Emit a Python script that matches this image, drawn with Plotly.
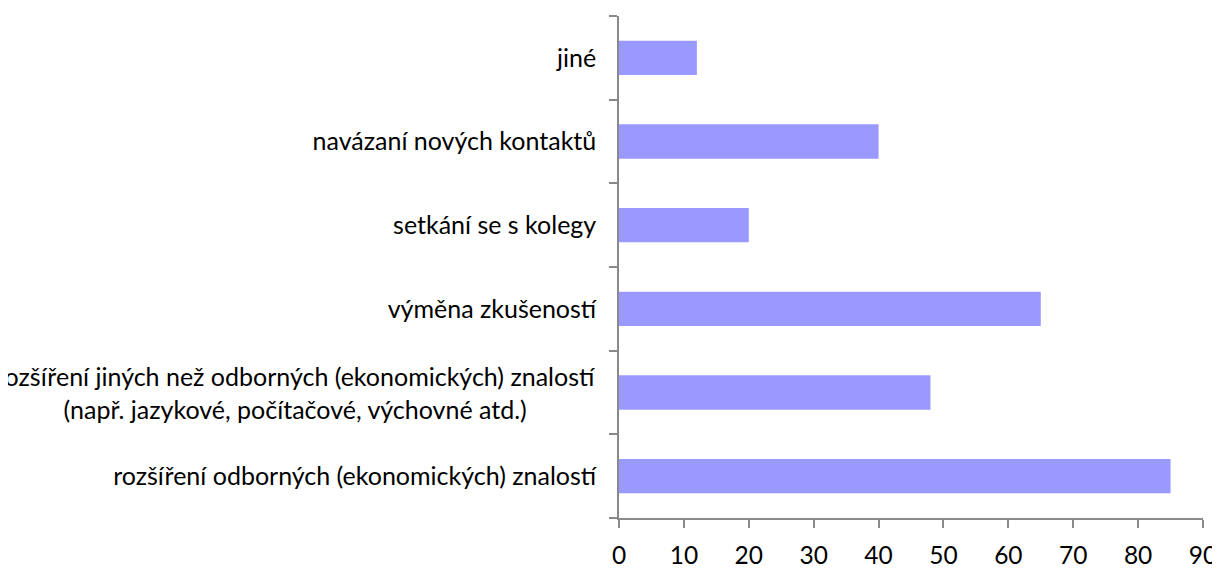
import plotly.graph_objects as go

categories = [
    "rozšíření odborných (ekonomických) znalostí",
    "rozšíření jiných než odborných (ekonomických) znalostí<br>(např. jazykové, počítačové, výchovné atd.)",
    "výměna zkušeností",
    "setkání se s kolegy",
    "navázaní nových kontaktů",
    "jiné",
]
values = [85, 48, 65, 20, 40, 12]
x_ticks = [0, 10, 20, 30, 40, 50, 60, 70, 80, 90]

FONT = "Lato"
FS = 25

# the browser page adds an 8px body margin, so the figure is 8px smaller
W, H = 1212, 560
ML, MR, MT, MB = 611, 17, 8, 50
PW = W - ML - MR

# multi-line label is drawn centred (as in the reference) via an annotation
multi = [c for c in categories if "<br>" in c]
ticktext = ["" if "<br>" in c else c for c in categories]

fig = go.Figure(
    go.Bar(
        y=categories,
        x=values,
        orientation="h",
        marker=dict(color="#9999FF", line=dict(width=0)),
        width=0.41,
    )
)

for c in multi:
    fig.add_annotation(
        text=c,
        xref="paper",
        yref="y",
        x=(590 - ML) / PW,
        y=c,
        xanchor="right",
        yanchor="middle",
        align="center",
        showarrow=False,
        font=dict(family=FONT, size=FS, color="black"),
    )

fig.update_layout(
    width=W,
    height=H,
    margin=dict(l=ML, r=MR, t=MT, b=MB, autoexpand=False),
    paper_bgcolor="white",
    plot_bgcolor="white",
    showlegend=False,
    font=dict(family=FONT, size=FS, color="black"),
)

fig.update_xaxes(
    range=[0, 90],
    tickvals=x_ticks,
    ticktext=[str(v) for v in x_ticks],
    showgrid=False,
    zeroline=False,
    showline=True,
    linecolor="#898989",
    linewidth=1.5,
    ticks="outside",
    ticklen=8,
    tickwidth=1.5,
    tickcolor="#898989",
    ticklabelstandoff=7,
    automargin=False,
    tickfont=dict(family=FONT, size=24.5, color="black"),
)

fig.update_yaxes(
    type="category",
    categoryorder="array",
    categoryarray=categories,
    tickvals=categories,
    ticktext=ticktext,
    showgrid=False,
    zeroline=False,
    showline=True,
    linecolor="#898989",
    linewidth=1.5,
    ticks="outside",
    tickson="boundaries",
    ticklen=8,
    tickwidth=1.5,
    tickcolor="#898989",
    ticklabelstandoff=16,
    automargin=False,
    tickfont=dict(family=FONT, size=FS, color="black"),
)

fig.write_html("out.html")
